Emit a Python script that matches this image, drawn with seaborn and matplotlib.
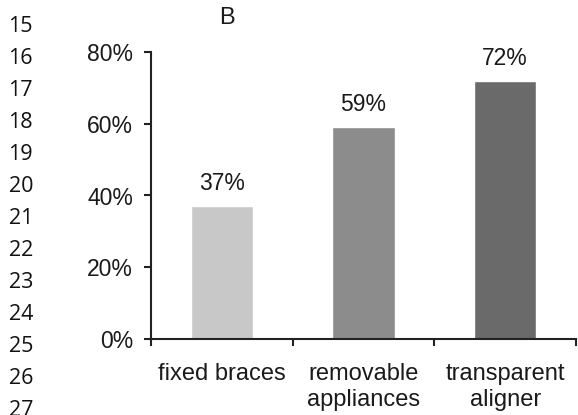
import pandas as pd
import matplotlib
matplotlib.use('Agg')
import matplotlib.pyplot as plt
import seaborn as sns

categories = ['fixed braces', 'removable\nappliances', 'transparent\naligner']
values = [37, 59, 72]
bar_colors = ['#c8c8c8', '#8c8c8c', '#6a6a6a']
yticks = [0, 20, 40, 60, 80]
line_numbers = list(range(14, 28))

sns.set_style('white')
plt.rcParams['font.family'] = ['Liberation Sans', 'DejaVu Sans']

data = pd.DataFrame({'cat': categories, 'val': values})

fig = plt.figure(figsize=(5.78, 4.15), dpi=100)
ax = fig.add_axes([151 / 578, 1 - 339 / 415, 425 / 578, 287 / 415])

sns.barplot(data=data, x='cat', y='val', hue='cat', palette=bar_colors,
            width=0.44, legend=False, ax=ax, saturation=1)

for cont in ax.containers:
    ax.bar_label(cont, labels=[f'{int(v)}%' for v in cont.datavalues],
                 padding=8, fontsize=16.5, color='#1a1a1a')

ax.set_ylim(0, 80)
ax.set_xlim(-0.5, 2.5)
ax.set_yticks(yticks)
ax.set_yticklabels([f'{v}%' for v in yticks], fontsize=16.5, color='#1a1a1a')
ax.set_xticks(range(len(categories)))
ax.set_xticklabels(categories, fontsize=17, color='#1a1a1a', linespacing=1.25)
ax.set_xticks([-0.5, 0.5, 1.5, 2.5], minor=True)
ax.tick_params(axis='x', which='major', length=0, pad=17, bottom=True)
ax.tick_params(axis='x', which='minor', length=5, width=1.5, direction='out',
               color='#222222', bottom=True)
ax.tick_params(axis='y', length=5, width=1.5, direction='out', color='#222222',
               pad=8, left=True)
ax.set_xlabel('')
ax.set_ylabel('')

sns.despine(ax=ax)
for s in ['left', 'bottom']:
    ax.spines[s].set_linewidth(1.5)
    ax.spines[s].set_color('#222222')

fig.text(227 / 578, 1 - 18 / 415, 'B', fontsize=17, ha='center', va='center', color='#1a1a1a')

for i, n in enumerate(line_numbers):
    ypx = -6 + 32 * i
    fig.text(33 / 578, 1 - ypx / 415, str(n), fontsize=15.5, ha='right', va='center',
             color='#111111', family=['Open Sans', 'DejaVu Sans'])

fig.savefig('out.png', dpi=100)
